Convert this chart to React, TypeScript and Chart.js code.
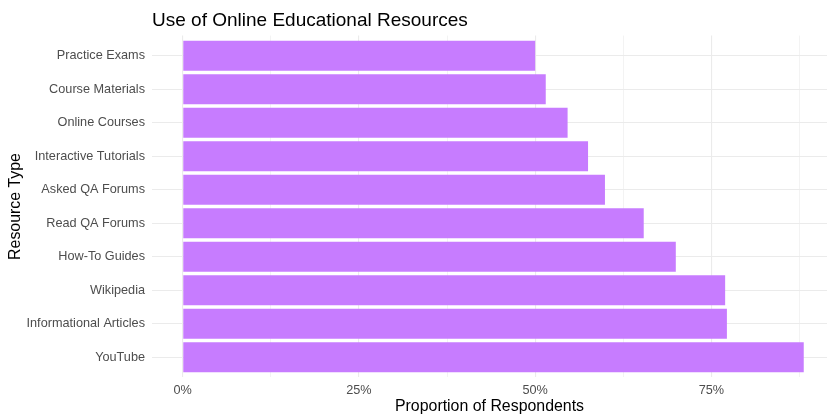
import React, { useEffect, useRef } from "react";
import { Chart, registerables } from "chart.js";

Chart.register(...registerables);

const categories = [
  "Practice Exams",
  "Course Materials",
  "Online Courses",
  "Interactive Tutorials",
  "Asked QA Forums",
  "Read QA Forums",
  "How-To Guides",
  "Wikipedia",
  "Informational Articles",
  "YouTube",
];
const proportions = [0.5, 0.515, 0.546, 0.575, 0.599, 0.654, 0.6995, 0.7695, 0.772, 0.881];
const xMajorTicks = [0, 0.25, 0.5, 0.75];
const xMajorLabels = ["0%", "25%", "50%", "75%"];
const xMinorTicks = [0.125, 0.375, 0.625, 0.875];

const titleText = "Use of Online Educational Resources";
const xTitleText = "Proportion of Respondents";
const yTitleText = "Resource Type";

const FONT = '"Liberation Sans", Arial, Helvetica, sans-serif';

export default function App() {
  const ref = useRef<HTMLCanvasElement | null>(null);

  useEffect(() => {
    if (!ref.current) return;
    const textPlugin = {
      id: "textPlugin",
      afterDraw(chart: any) {
        const { ctx, chartArea } = chart;
        ctx.save();
        ctx.fillStyle = "#000000";
        ctx.textBaseline = "alphabetic";
        ctx.font = `19px ${FONT}`;
        ctx.textAlign = "left";
        ctx.fillText(titleText, chartArea.left, 25.5);
        ctx.font = `15.9px ${FONT}`;
        ctx.textAlign = "center";
        ctx.fillText(xTitleText, (chartArea.left + chartArea.right) / 2, 410.5);
        ctx.translate(20, (chartArea.top + chartArea.bottom) / 2);
        ctx.rotate(-Math.PI / 2);
        ctx.fillText(yTitleText, 0, 0);
        ctx.restore();
      },
    };

    const chart = new Chart(ref.current, {
      type: "bar",
      data: {
        datasets: [
          {
            data: categories.map((c, i) => ({ x: proportions[i], y: i })),
            backgroundColor: "#C77CFF",
            borderWidth: 0,
            barPercentage: 0.9,
            categoryPercentage: 1,
          },
        ],
      },
      options: {
        indexAxis: "y",
        animation: false,
        responsive: false,
        devicePixelRatio: 1,
        layout: { padding: { top: 35.6, right: 0, left: 0, bottom: 0 } },
        plugins: {
          legend: { display: false },
          tooltip: { enabled: false },
          title: { display: false },
        },
        scales: {
          x: {
            type: "linear",
            min: -0.0436,
            max: 0.914,
            offset: false,
            afterBuildTicks: (s: any) => {
              s.ticks = [...xMajorTicks, ...xMinorTicks]
                .sort((a, b) => a - b)
                .map((v) => ({ value: v }));
            },
            afterFit: (s: any) => {
              s.height = 38.6;
            },
            ticks: {
              autoSkip: false,
              maxRotation: 0,
              padding: 5,
              color: "#4D4D4D",
              font: { family: FONT, size: 12.7 },
              callback: (v: any) => {
                const i = xMajorTicks.indexOf(Number(v));
                return i >= 0 ? xMajorLabels[i] : "";
              },
            },
            grid: {
              color: "#EBEBEB",
              drawTicks: false,
              offset: false,
              lineWidth: (ctx: any) =>
                ctx.tick && xMinorTicks.indexOf(ctx.tick.value) >= 0 ? 0.6 : 1.1,
            },
            border: { display: false },
          },
          y: {
            type: "linear",
            reverse: true,
            min: -0.6,
            max: 9.6,
            offset: false,
            afterBuildTicks: (s: any) => {
              s.ticks = categories.map((_, i) => ({ value: i }));
            },
            afterFit: (s: any) => {
              s.width = 152;
            },
            ticks: {
              autoSkip: false,
              padding: 7,
              color: "#4D4D4D",
              font: { family: FONT, size: 12.7 },
              callback: (v: any) => categories[Number(v)] ?? "",
            },
            grid: { color: "#EBEBEB", drawTicks: false, offset: false, lineWidth: 1.1 },
            border: { display: false },
          },
        },
      },
      plugins: [textPlugin],
    } as any);
    return () => chart.destroy();
  }, []);

  return (
    <div style={{ position: "absolute", left: 0, top: 0, width: 827, height: 416, background: "#ffffff" }}>
      <canvas ref={ref} width={827} height={416} style={{ width: 827, height: 416, display: "block" }} />
    </div>
  );
}
